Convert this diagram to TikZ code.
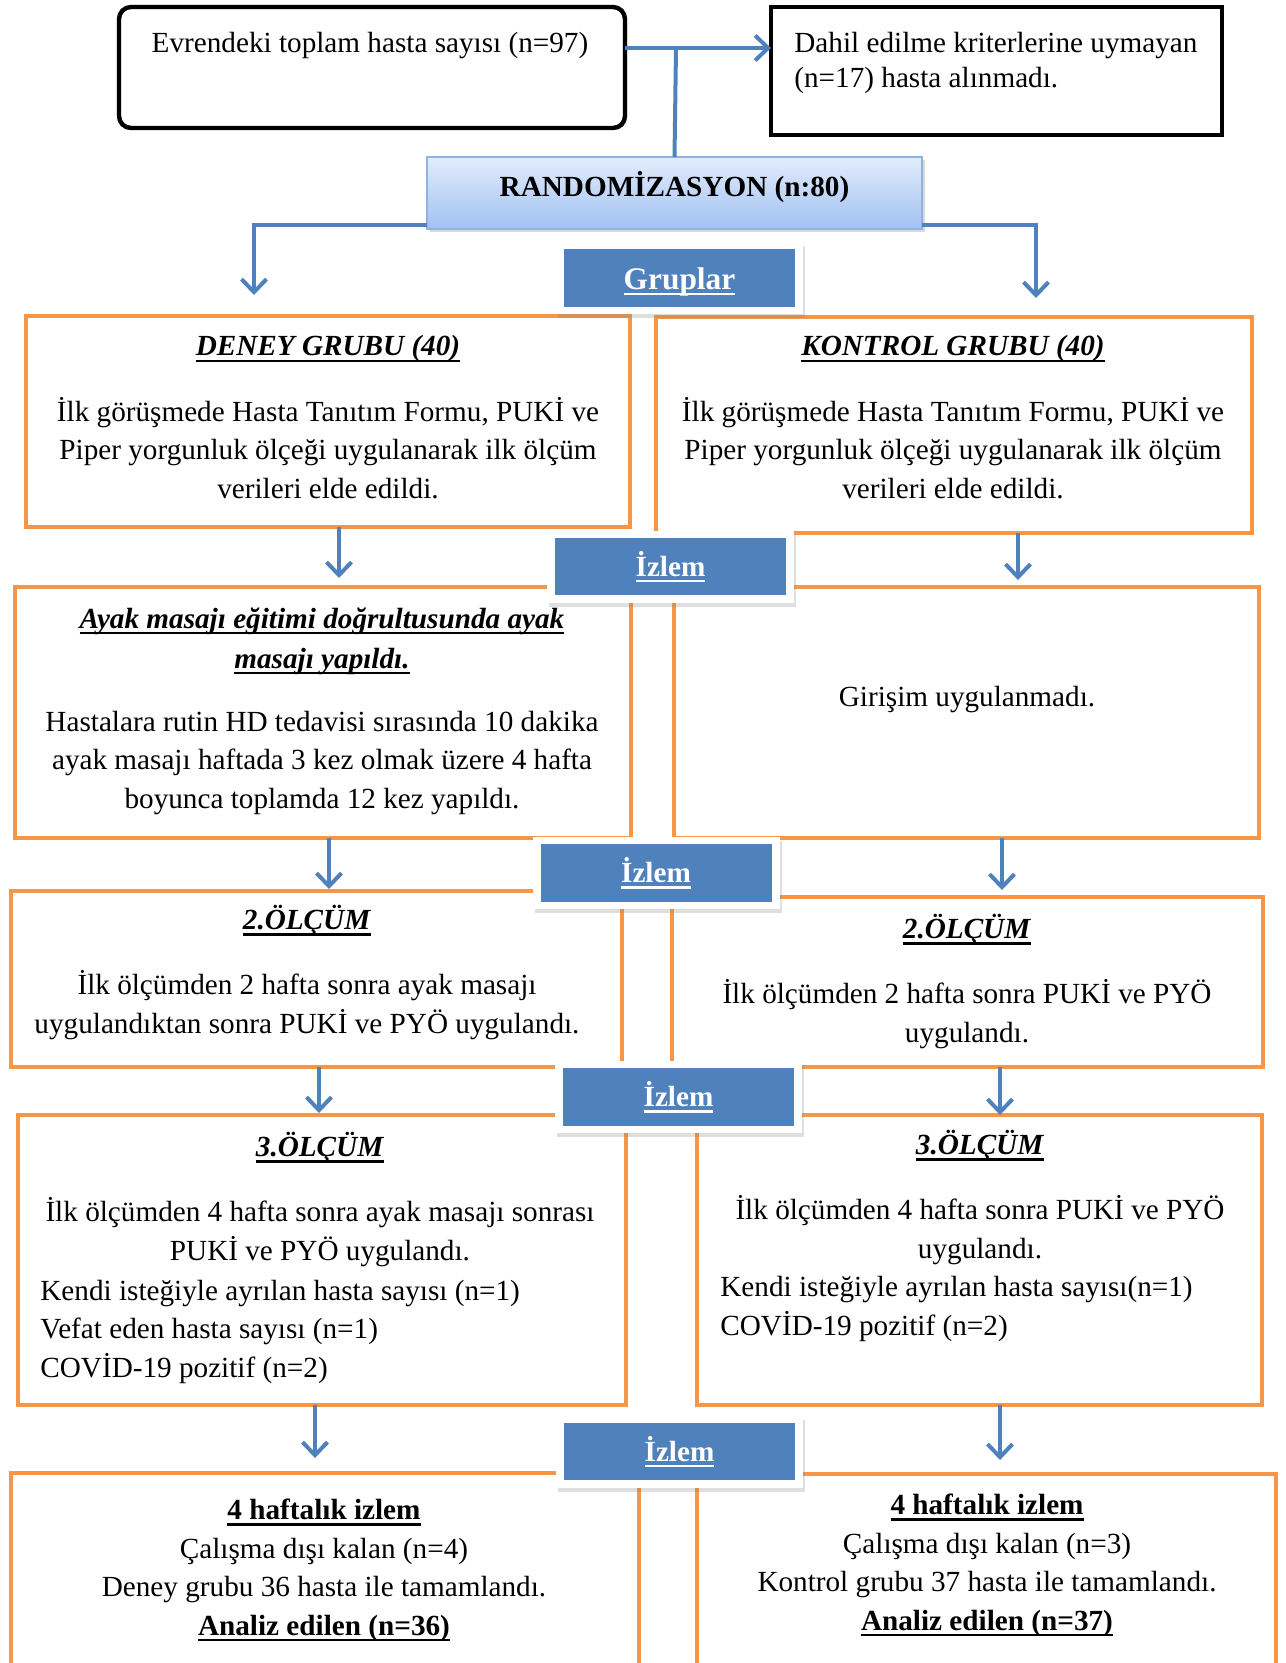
\documentclass[tikz,border=0pt]{standalone}
\usepackage{fontspec}
\setmainfont{Liberation Serif}
\usetikzlibrary{arrows.meta,shadows}

\definecolor{orgline}{HTML}{F79646}
\definecolor{arrblue}{HTML}{4F81BD}
\definecolor{izblue}{HTML}{4F81BD}
\definecolor{rndtop}{HTML}{E2ECFC}
\definecolor{rndbot}{HTML}{A2C1F3}
\definecolor{rndline}{HTML}{8DB3E2}

\newcommand{\bodyfont}{\fontsize{14.6pt}{19.25pt}\selectfont}
\newcommand{\undl}[1]{\leavevmode\setbox0=\hbox{#1}\rlap{\rule[-3pt]{\wd0}{1.1pt}}\box0}

\begin{document}
\begin{tikzpicture}[x=0.5pt, y=-0.5pt,
  obox/.style={draw=orgline, line width=2pt, outer sep=0pt, inner sep=0pt},
  txt/.style={inner sep=0pt, font=\bodyfont, align=center},
  arr/.style={draw=arrblue, line width=2pt, -{Straight Barb[length=6.5pt, width=12.5pt]}},
  conn/.style={draw=arrblue, line width=2pt},
  izframe/.style={fill=white, minimum width=123.5pt, minimum height=36pt, inner sep=0pt,
    drop shadow={opacity=0.25, shadow xshift=1pt, shadow yshift=-2pt}},
  izlem/.style={fill=izblue, text=white, minimum width=115.5pt, minimum height=28.75pt,
    inner sep=0pt, font=\bodyfont\bfseries}]

  \useasboundingbox (0,0) rectangle (1285,1663);

  % Population and excluded patients
  \node[draw, fill=white, line width=2.2pt, rounded corners=6pt, outer sep=0pt,
    minimum width=253pt, minimum height=60.5pt,
    drop shadow={opacity=0.3, shadow xshift=1pt, shadow yshift=-1pt}] (evren) at (372,67.5) {};
  \node[txt, anchor=base] (evrenT) at (370,53) {Evrendeki toplam hasta sayısı (n=97)};

  \node[draw, fill=white, line width=2.2pt, outer sep=0pt, minimum width=225.5pt, minimum height=64pt,
    drop shadow={opacity=0.3, shadow xshift=1pt, shadow yshift=-1pt}] (dahil) at (996.5,71) {};
  \node[txt, anchor=base west, align=left] (dahilT) at (794,88)
    {Dahil edilme kriterlerine uymayan\\[-1.75pt](n=17) hasta alınmadı.};

  % Randomisation
  \node[draw=rndline, line width=1pt, top color=rndtop, bottom color=rndbot, outer sep=0pt,
    minimum width=247.5pt, minimum height=36pt, text depth=9pt, font=\bodyfont\bfseries,
    drop shadow={opacity=0.3, shadow xshift=1.5pt, shadow yshift=-1.5pt}] (random) at (674.5,193)
    {RANDOMİZASYON (n:80)};

  \coordinate (split) at (676,48);
  \draw[arr] ([yshift=9.75pt]evren.east) -- ([yshift=11.5pt]dahil.west);
  \draw[conn] (split) -- (random.north);

  % Group boxes
  \foreach \nm/\px/\py/\w/\h in {deney/328/421.5/302/105.5, kontrol/954/425/298/108,
      ayak/323/712.5/308/125.5, giris/966.5/712.5/292.5/125.5,
      olcA/316.5/979/305.5/88, olcB/967.5/982/295.5/85,
      olcC/322/1260/304/145, olcD/979.5/1260/282.5/145,
      sonA/325/1576.5/314/103.5, sonB/986.5/1577/289.5/103}
    \node[obox, minimum width=\w pt, minimum height=\h pt] (\nm) at (\px,\py) {};

  % Branches to the two groups
  \draw[arr] ([yshift=2pt]random.south west) -| ([xshift=-37pt, yshift=10.5pt]deney.north);
  \draw[arr] ([yshift=2pt]random.south east) -| ([xshift=41pt, yshift=9.5pt]kontrol.north);

  % Follow-up arrows
  \draw[arr] ([xshift=5.5pt]deney.south) -- ([xshift=8pt, yshift=4.5pt]ayak.north);
  \draw[arr] ([xshift=32pt]kontrol.south) -- ([xshift=25.75pt, yshift=3.5pt]giris.north);
  \draw[arr] ([xshift=3pt]ayak.south) -- ([xshift=6.25pt, yshift=1pt]olcA.north);
  \draw[arr] ([xshift=17.75pt]giris.south) -- ([xshift=17.25pt, yshift=3.5pt]olcB.north);
  \draw[arr] ([xshift=1.25pt]olcA.south) -- ([xshift=-1.5pt, yshift=1pt]olcC.north);
  \draw[arr] ([xshift=16.25pt]olcB.south) -- ([xshift=10.25pt]olcD.north);
  \draw[arr] ([xshift=-3.5pt]olcC.south) -- ([xshift=-5pt, yshift=7.5pt]sonA.north);
  \draw[arr] ([xshift=10.25pt]olcD.south) -- ([xshift=6.75pt, yshift=7pt]sonB.north);

  % Box texts (placed at the baseline of their last line)
  \node[txt, anchor=base] (deneyT) at (328,498)
    {\undl{\textbf{\textit{DENEY GRUBU (40)}}}\\[13.25pt]
     İlk görüşmede Hasta Tanıtım Formu, PUKİ ve\\
     Piper yorgunluk ölçeği uygulanarak ilk ölçüm\\
     verileri elde edildi.};
  \node[txt, anchor=base] (kontrolT) at (953,498)
    {\undl{\textbf{\textit{KONTROL GRUBU (40)}}}\\[13.25pt]
     İlk görüşmede Hasta Tanıtım Formu, PUKİ ve\\
     Piper yorgunluk ölçeği uygulanarak ilk ölçüm\\
     verileri elde edildi.};
  \node[txt, anchor=base] (ayakT) at (322,808)
    {\undl{\textbf{\textit{Ayak masajı eğitimi doğrultusunda ayak}}}\\[0.75pt]
     \undl{\textbf{\textit{masajı yapıldı.}}}\\[12.25pt]
     Hastalara rutin HD tedavisi sırasında 10 dakika\\
     ayak masajı haftada 3 kez olmak üzere 4 hafta\\
     boyunca toplamda 12 kez yapıldı.};
  \node[txt, anchor=base] (girisT) at (967,706) {Girişim uygulanmadı.};
  \node[txt, anchor=base] (olcAT) at (307,1033)
    {\undl{\textbf{\textit{2.ÖLÇÜM}}}\\[13.25pt]
     İlk ölçümden 2 hafta sonra ayak masajı\\
     uygulandıktan sonra PUKİ ve PYÖ uygulandı.};
  \node[txt, anchor=base] (olcBT) at (967,1042)
    {\undl{\textbf{\textit{2.ÖLÇÜM}}}\\[13.25pt]
     İlk ölçümden 2 hafta sonra PUKİ ve PYÖ\\
     uygulandı.};
  \node[txt, anchor=base] (olcCT) at (320,1260)
    {\undl{\textbf{\textit{3.ÖLÇÜM}}}\\[13.25pt]
     İlk ölçümden 4 hafta sonra ayak masajı sonrası\\
     PUKİ ve PYÖ uygulandı.};
  \node[txt, anchor=base west, align=left] (olcCL) at (40,1377)
    {Kendi isteğiyle ayrılan hasta sayısı (n=1)\\
     Vefat eden hasta sayısı (n=1)\\
     COVİD-19 pozitif (n=2)};
  \node[txt, anchor=base] (olcDT) at (980,1258)
    {\undl{\textbf{\textit{3.ÖLÇÜM}}}\\[13.25pt]
     İlk ölçümden 4 hafta sonra PUKİ ve PYÖ\\
     uygulandı.};
  \node[txt, anchor=base west, align=left] (olcDL) at (720,1335)
    {Kendi isteğiyle ayrılan hasta sayısı(n=1)\\
     COVİD-19 pozitif (n=2)};
  \node[txt, anchor=base] (sonAT) at (324,1635)
    {\undl{\textbf{4 haftalık izlem}}\\
     Çalışma dışı kalan (n=4)\\
     Deney grubu 36 hasta ile tamamlandı.\\
     \undl{\textbf{Analiz edilen (n=36)}}};
  \node[txt, anchor=base] (sonBT) at (987,1630)
    {\undl{\textbf{4 haftalık izlem}}\\
     Çalışma dışı kalan (n=3)\\
     Kontrol grubu 37 hasta ile tamamlandı.\\
     \undl{\textbf{Analiz edilen (n=37)}}};

  % Section labels
  \node[izframe] (grupF) at (679.5,278.5) {};
  \node[izlem, text height=14.5pt, font=\fontsize{15.7pt}{19pt}\selectfont\bfseries] (grup) at (679.5,278)
    {\undl{Gruplar}};
  \foreach \nm/\px/\py in {izA/670.5/566.5, izB/656/873, izC/678.5/1097, izD/679.5/1451.5} {
    \node[izframe] (\nm F) at (\px,\py) {};
    \node[izlem] (\nm) at (\px,\py) {\undl{İzlem}};
  }
\end{tikzpicture}
\end{document}
